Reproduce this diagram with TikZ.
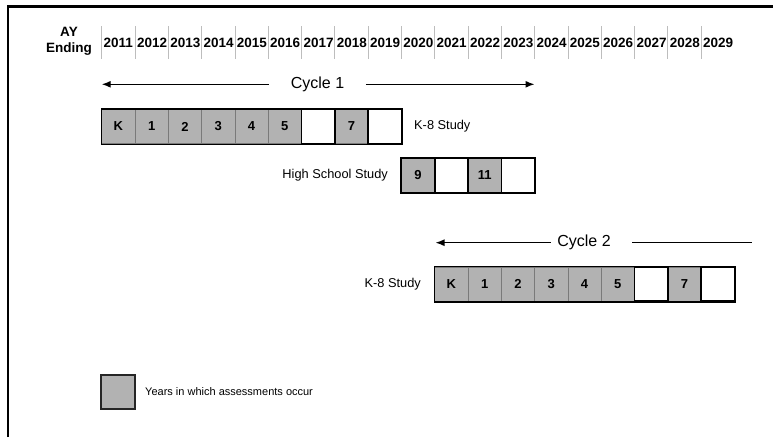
\documentclass[tikz,border=0pt]{standalone}
\usepackage{fontspec}
\setmainfont{Liberation Sans}
\usetikzlibrary{arrows.meta}
\definecolor{cellgray}{HTML}{B2B2B2}
\definecolor{cellline}{HTML}{7A7A7A}
\definecolor{sepgray}{HTML}{BDBDBD}
\begin{document}
\begin{tikzpicture}[x=1pt,y=-1pt,
  cell/.style={draw=cellline, fill=cellgray, minimum width=33.3pt, minimum height=34pt,
    inner sep=0pt, line width=0.8pt, font=\fontsize{13}{13}\selectfont\bfseries},
  emptycell/.style={cell, fill=white, draw=black, line width=1.6pt},
  rowframe/.style={draw=black, line width=1.4pt},
  yearlbl/.style={anchor=west, inner sep=0pt, font=\fontsize{13.5}{13.5}\selectfont\bfseries},
  studylbl/.style={inner sep=0pt, font=\fontsize{12.8}{12.8}\selectfont},
  cyclelbl/.style={inner sep=0pt, font=\fontsize{16}{16}\selectfont},
  arr/.style={line width=1.3pt, -{Latex[length=9pt,width=7pt]}},
  plainline/.style={line width=1.3pt},
  sep/.style={draw=sepgray, line width=0.8pt}]
\useasboundingbox (0,0) rectangle (773,437);
% frame
\draw[line width=2.2pt] (7.8,437) -- (7.8,6.5) -- (773,6.5);
% header
\node[align=center, inner sep=0pt, font=\fontsize{13.5}{16.5}\selectfont\bfseries] (ay) at (69,41.5) {AY\\Ending};
\foreach \i in {0,...,18} {
  \pgfmathsetmacro{\xx}{101.7+33.3*\i}
  \pgfmathtruncatemacro{\yr}{2011+\i}
  \coordinate (s\i t) at (\xx,26);
  \coordinate (s\i b) at (\xx,59.3);
  \draw[sep] (s\i t) -- (s\i b);
  \node[yearlbl] (y\yr) at (\xx+1.8,42.5) {\yr};
}
% cycle 1
\node[cyclelbl] (c1) at (317.5,84.3) {Cycle 1};
\coordinate (c1l) at (101.7,84.3);
\coordinate (c1r) at (534.5,84.3);
\draw[arr] ([xshift=-22pt]c1.west) -- (c1l);
\draw[arr] ([xshift=21.5pt]c1.east) -- (c1r);
% row 1 K-8
\foreach \k/\t in {0/K,1/1,2/2,3/3,4/4,5/5,7/7}
  \node[cell] (a\k) at (118.35+33.3*\k,126.5) {\t};
\foreach \k in {6,8}
  \node[emptycell] (a\k) at (118.35+33.3*\k,126.5) {};
\draw[rowframe] (a0.north west) rectangle (a8.south east);
\node[studylbl, anchor=west] (k8a) at (414,126.5) {K-8 Study};
% high school
\foreach \k/\t in {9/9,11/11}
  \node[cell] (h\k) at (118.35+33.3*\k,175.3) {\t};
\foreach \k in {10,12}
  \node[emptycell] (h\k) at (118.35+33.3*\k,175.3) {};
\draw[rowframe] (h9.north west) rectangle (h12.south east);
\node[studylbl, anchor=east] (hs) at (388,175.3) {High School Study};
% cycle 2
\node[cyclelbl] (c2) at (584,242.7) {Cycle 2};
\coordinate (c2l) at (435.5,242.7);
\coordinate (c2r) at (752,242.7);
\draw[arr] ([xshift=-6.5pt]c2.west) -- (c2l);
\draw[plainline] ([xshift=21.5pt]c2.east) -- (c2r);
% row 2 K-8
\foreach \k/\t in {10/K,11/1,12/2,13/3,14/4,15/5,17/7}
  \node[cell] (b\k) at (118.35+33.3*\k,284) {\t};
\foreach \k in {16,18}
  \node[emptycell] (b\k) at (118.35+33.3*\k,284) {};
\draw[rowframe] (b10.north west) rectangle (b18.south east);
\node[studylbl, anchor=east] (k8b) at (421,284) {K-8 Study};
% legend
\node[cell, draw=black!85, line width=1.8pt, minimum width=34pt, minimum height=34pt] (leg) at (118.2,391.7) {};
\node[inner sep=0pt, anchor=west, font=\fontsize{11}{11}\selectfont] (legt) at (145,391.7) {Years in which assessments occur};
\end{tikzpicture}
\end{document}
